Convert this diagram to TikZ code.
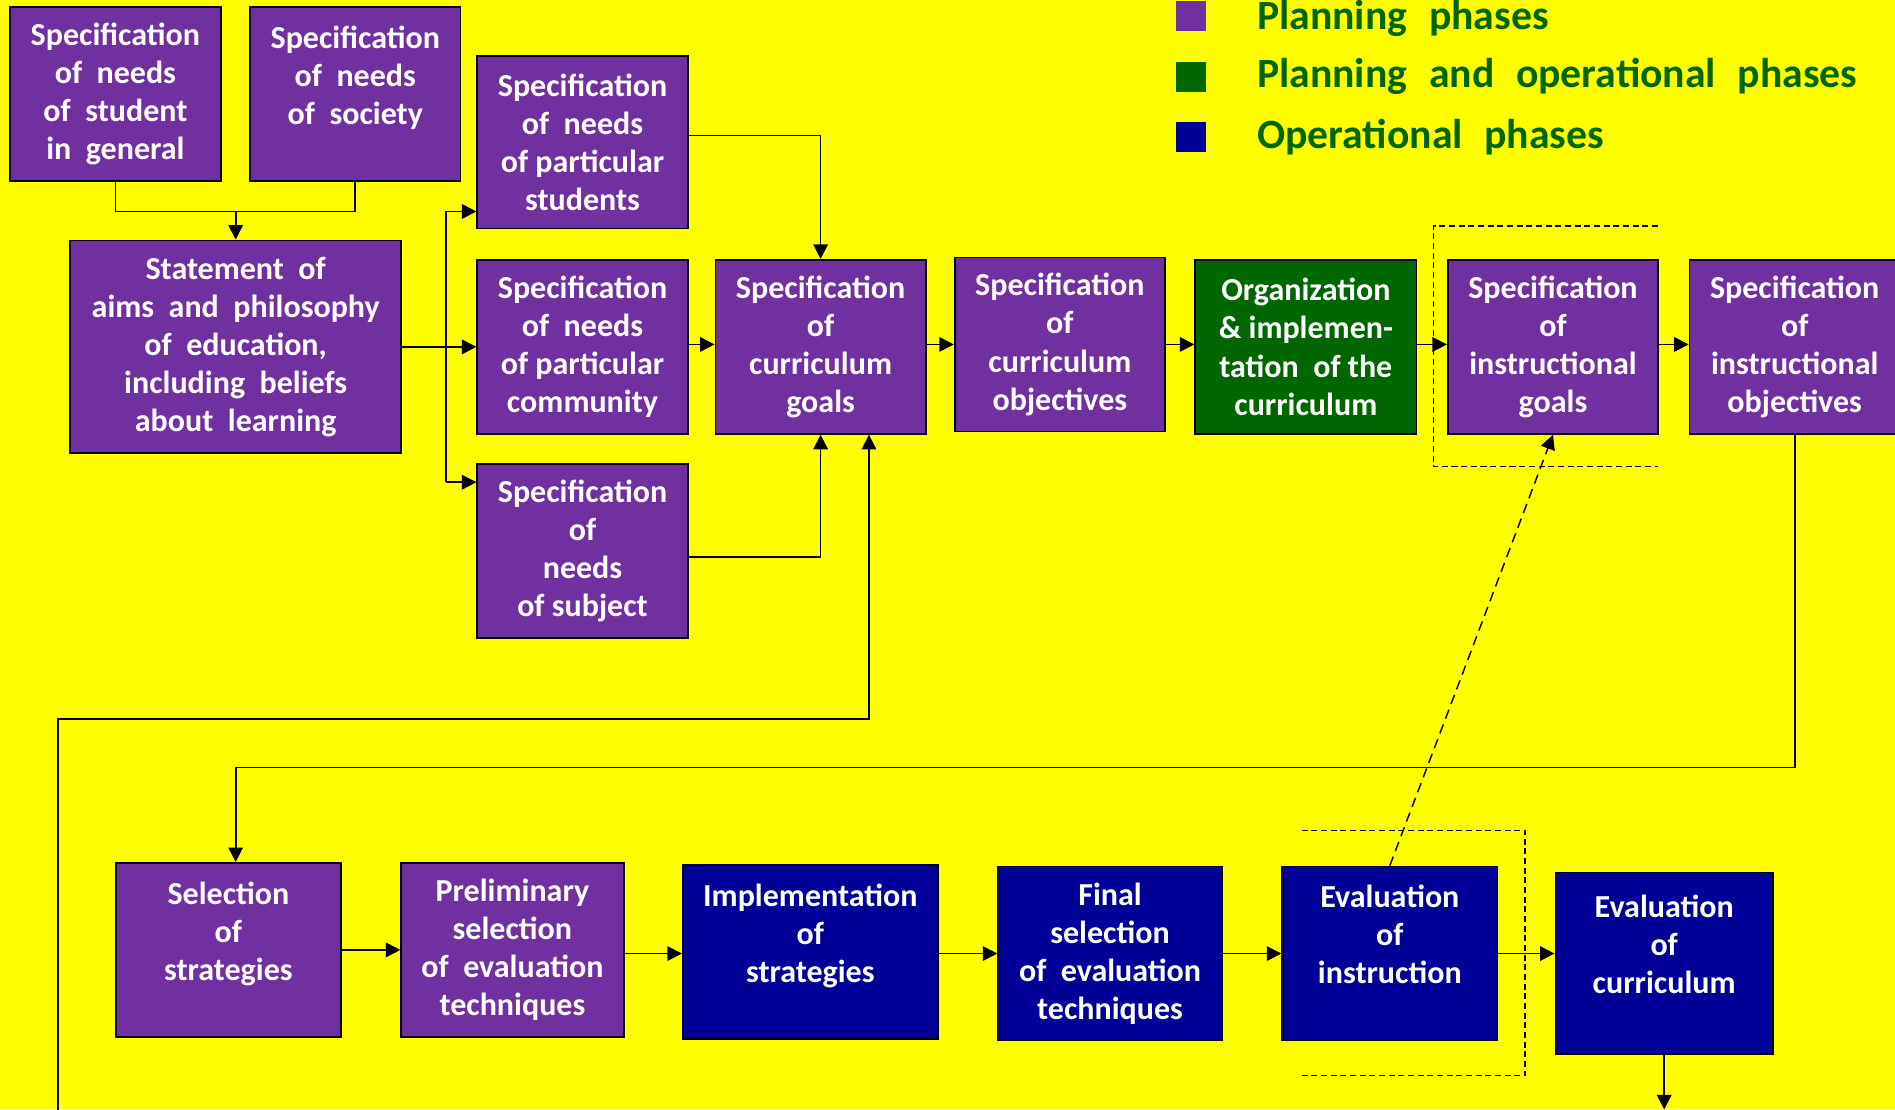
\documentclass[tikz,border=0pt]{standalone}
\usepackage{fontspec}
\setmainfont{Carlito}
\usetikzlibrary{arrows.meta}
\definecolor{ppurple}{HTML}{7030A0}
\definecolor{pgreen}{HTML}{006600}
\definecolor{pblue}{HTML}{000099}
\definecolor{lgreen}{HTML}{006600}
\definecolor{bgyellow}{HTML}{FFFF00}
\newcommand{\lgap}{\hspace{0.52em}}
\begin{document}
\begin{tikzpicture}[x=1pt,y=-1pt,
 box/.style={draw=black, line width=1.5pt, text=white, align=center, inner sep=0pt,
   font=\fontsize{26.5}{31.5}\selectfont\bfseries},
 pbox/.style={box, fill=ppurple},
 gbox/.style={box, fill=pgreen},
 bbox/.style={box, fill=pblue},
 conn/.style={line width=1.4pt, draw=black},
 arr/.style={conn, -{Triangle[length=12pt,width=12pt]}},
 dsh/.style={line width=1.2pt, dash pattern=on 5pt off 3pt},
 dsharr/.style={line width=1.2pt, dash pattern=on 8pt off 5pt, -{Triangle[length=12pt,width=12pt]}},
 legtext/.style={text=lgreen, font=\fontsize{34.5}{40}\selectfont\bfseries, anchor=base west, inner sep=0pt},
 legsq/.style={inner sep=0pt, minimum size=25pt}
]
\fill[bgyellow] (0,0) rectangle (1568,918);
\useasboundingbox (0,0) rectangle (1568,918);

% legend
\node[legsq, fill=ppurple] (lg1) at (985.5,13.5) {};
\node[legsq, fill=pgreen] (lg2) at (985.5,63.5) {};
\node[legsq, fill=pblue] (lg3) at (985.5,113.5) {};
\node[legtext] (lt1) at (1040,24.5) {Planning\lgap phases};
\node[legtext] (lt2) at (1040,72.5) {Planning\lgap and\lgap operational\lgap phases};
\node[legtext] (lt3) at (1040,123) {Operational\lgap phases};

% top boxes
\node[pbox, minimum width=175, minimum height=144] (A) at (95.5,78)
  {Specification\\of~~needs\\of~~student\\in~~general};
\node[pbox, minimum width=174, minimum height=144] (B) at (294,78)
  {Specification\\of~~needs\\of~~society\\\mbox{}};
\node[pbox, minimum width=274, minimum height=176] (C) at (195,287)
  {Statement~~of\\aims~~and~~philosophy\\of~~education,\\including~~beliefs\\about~~learning};
\node[pbox, minimum width=174, minimum height=143] (D) at (482,117.5)
  {Specification\\of~~needs\\of particular\\students};
\node[pbox, minimum width=174, minimum height=144] (E) at (482,287)
  {Specification\\of~~needs\\of particular\\community};
\node[pbox, minimum width=174, minimum height=144] (F) at (482,456)
  {Specification\\of\\needs\\of subject};
\node[pbox, minimum width=174, minimum height=144] (G) at (679,287)
  {Specification\\of\\curriculum\\goals};
\node[pbox, minimum width=174, minimum height=144] (H) at (877,285)
  {Specification\\of\\curriculum\\objectives};
\node[gbox, minimum width=183, minimum height=144] (I) at (1080.5,287)
  {Organization\\\& implemen-\\tation~~of the\\curriculum};
\node[pbox, minimum width=174, minimum height=144] (J) at (1285,287)
  {Specification\\of\\instructional\\goals};
\node[pbox, minimum width=174, minimum height=144] (K) at (1485,287)
  {Specification\\of\\instructional\\objectives};

% bottom boxes
\node[pbox, minimum width=186, minimum height=144] (L) at (189,786)
  {Selection\\of\\strategies\\\mbox{}};
\node[pbox, minimum width=184, minimum height=144] (M) at (424,786)
  {Preliminary\\selection\\of~~evaluation\\techniques};
\node[bbox, minimum width=211, minimum height=144] (N) at (670.5,788)
  {Implementation\\of\\strategies\\\mbox{}};
\node[bbox, minimum width=185, minimum height=144] (O) at (918.5,789)
  {Final\\selection\\of~~evaluation\\techniques};
\node[bbox, minimum width=178, minimum height=144] (P) at (1150,789)
  {Evaluation\\of\\instruction\\\mbox{}};
\node[bbox, minimum width=180, minimum height=150] (Q) at (1377,797)
  {Evaluation\\of\\curriculum\\\mbox{}};

% dashed brackets
\draw[dsh] (1372,187) -- (1186,187) -- (1186,386) -- (1372,386);
\draw[dsh] (1077,687) -- (1262,687) -- (1262,890) -- (1077,890);

% connectors
\coordinate (ab) at (195,175);
\draw[conn] (A.south) -- (A.south |- ab) -- (B.south |- ab) -- (B.south);
\draw[arr] (ab) -- (C.north);

\coordinate (vs) at (369,175);
\coordinate (vf) at (369,399);
\draw[arr] (C.east) -- (E.west);
\draw[conn] (vs) -- (vf);
\draw[arr] (vs) -- (vs -| D.west);
\draw[arr] (vf) -- (vf -| F.west);

\coordinate (dg) at (679,112);
\draw[arr] (D.east |- dg) -- (dg) -- (G.north);
\coordinate (rowy) at (0,285);
\draw[arr] (E.east |- rowy) -- (G.west |- rowy);
\coordinate (fy) at (679,461);
\draw[arr] (F.east |- fy) -- (fy) -- (G.south);

\coordinate (fb0) at (48,930);
\coordinate (fb1) at (719,595);
\draw[arr] (fb0) |- (fb1) -- (fb1 |- G.south);

\draw[arr] (G.east |- rowy) -- (H.west |- rowy);
\draw[arr] (H.east |- rowy) -- (I.west |- rowy);
\draw[arr] (I.east |- rowy) -- (J.west |- rowy);
\draw[arr] (J.east |- rowy) -- (K.west |- rowy);

\coordinate (kl) at (195,635);
\draw[arr] (K.south) |- (kl) -- (kl |- L.north);

\draw[arr] (L.east) -- (M.west |- L.east);
\coordinate (brow) at (0,789);
\draw[arr] (M.east |- brow) -- (N.west |- brow);
\draw[arr] (N.east |- brow) -- (O.west |- brow);
\draw[arr] (O.east |- brow) -- (P.west |- brow);
\draw[arr] (P.east |- brow) -- (Q.west |- brow);

\coordinate (bot) at (0,918);
\draw[arr] (Q.south) -- (Q.south |- bot);

\draw[dsharr] (P.north) -- (J.south);
\end{tikzpicture}
\end{document}
